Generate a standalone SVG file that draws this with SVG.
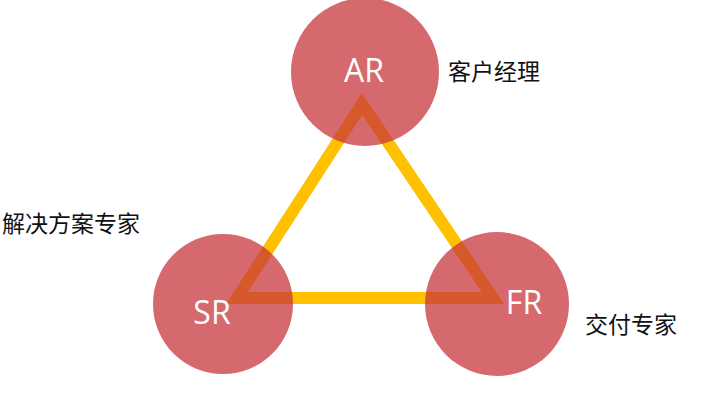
<svg xmlns="http://www.w3.org/2000/svg" width="728" height="418" viewBox="0 0 728 418">
<style>
.c{fill:#C8353A;fill-opacity:0.74}
.n{font-family:"Open Sans","Liberation Sans",sans-serif;font-size:32px;fill:#fff;text-anchor:middle}
.l{font-family:"Noto Sans CJK SC",sans-serif;font-size:23px;fill:#111}
</style>
<rect width="728" height="418" fill="#fff"/>
<g id="connectors">
<polygon points="362,104 237,298 493,298" fill="none" stroke="#FFC000" stroke-width="12" stroke-linejoin="miter"/>
</g>
<g id="AR"><circle class="c" cx="365" cy="72" r="74"/><text class="n" x="364" y="82">AR</text><text class="l" x="448" y="80">客户经理</text></g>
<g id="SR"><circle class="c" cx="223" cy="304" r="70"/><text class="n" x="212" y="324">SR</text><text class="l" x="2" y="232">解决方案专家</text></g>
<g id="FR"><circle class="c" cx="497" cy="304" r="72"/><text class="n" x="524" y="314">FR</text><text class="l" x="585" y="333">交付专家</text></g>
</svg>
